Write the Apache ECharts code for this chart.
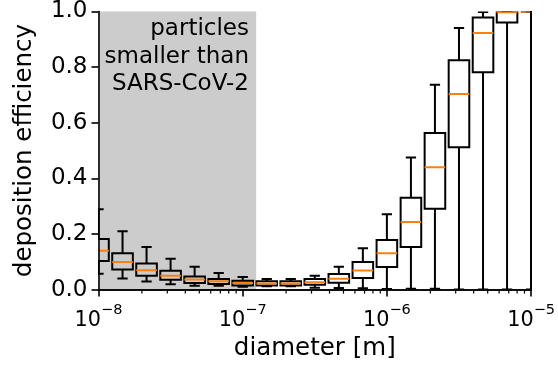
<!DOCTYPE html>
<html>
<head>
<meta charset="utf-8">
<script src="https://cdn.jsdelivr.net/npm/echarts@6/dist/echarts.min.js"></script>
<style>html,body{margin:0;padding:0;background:#fff}#c{width:558px;height:366px}</style>
</head>
<body>
<div id="c"></div>
<script>
// ---- data ----
const diameters = [1e-8, 1.468e-8, 2.154e-8, 3.162e-8, 4.642e-8, 6.813e-8, 1e-7, 1.468e-7, 2.154e-7, 3.162e-7, 4.642e-7, 6.813e-7, 1e-6, 1.468e-6, 2.154e-6, 3.162e-6, 4.642e-6, 6.813e-6, 1e-5];
const whiskerLow  = [0.057, 0.040, 0.029, 0.019, 0.014, 0.014, 0.010, 0.012, 0.012, 0.007, 0.006, 0.005, 0.002, 0.003, 0.003, 0.0, 0.0, 0.0, 0.0];
const q1          = [0.103, 0.072, 0.050, 0.035, 0.024, 0.020, 0.015, 0.015, 0.015, 0.017, 0.025, 0.042, 0.081, 0.153, 0.291, 0.512, 0.782, 0.960, 1.0];
const medians     = [0.140, 0.099, 0.070, 0.050, 0.036, 0.030, 0.024, 0.022, 0.022, 0.026, 0.039, 0.069, 0.131, 0.243, 0.440, 0.703, 0.923, 0.997, 1.0];
const q3          = [0.182, 0.131, 0.094, 0.068, 0.047, 0.038, 0.032, 0.030, 0.030, 0.038, 0.056, 0.099, 0.178, 0.330, 0.563, 0.825, 0.978, 1.0, 1.0];
const whiskerHigh = [0.289, 0.210, 0.153, 0.111, 0.082, 0.060, 0.045, 0.038, 0.038, 0.050, 0.082, 0.149, 0.271, 0.475, 0.737, 0.941, 0.998, 1.0, 1.0];
const shadeRange = [1e-8, 1.24e-7];
const shadeText = 'particles\nsmaller than\nSARS-CoV-2';
const xTicks = [1e-8, 1e-7, 1e-6, 1e-5];
const yTicks = [0, 0.2, 0.4, 0.6, 0.8, 1.0];
const xLabel = 'diameter [m]';
const yLabel = 'deposition efficiency';

// minor tick positions of the log axis (2..9 x 10^n)
const minorTicks = [];
for (let n = -8; n < -5; n++) for (let k = 2; k <= 9; k++) minorTicks.push(k * Math.pow(10, n));

const boxData = diameters.map((d, i) => [d, whiskerLow[i], q1[i], medians[i], q3[i], whiskerHigh[i]]);

const FONT = 'DejaVu Sans';
const chart = echarts.init(document.getElementById('c'), null, {renderer: 'canvas'});

function renderBox(params, api) {
  const x = api.value(0);
  const lo = api.coord([x, api.value(1)]);
  const b1 = api.coord([x, api.value(2)]);
  const md = api.coord([x, api.value(3)]);
  const b3 = api.coord([x, api.value(4)]);
  const hi = api.coord([x, api.value(5)]);
  const cx = lo[0];
  const hw = 10.3, cw = 5.15;
  const st = {stroke: '#000', lineWidth: 2, fill: null};
  return {
    type: 'group',
    children: [
      {type: 'line', shape: {x1: cx, y1: b1[1], x2: cx, y2: lo[1]}, style: st},
      {type: 'line', shape: {x1: cx, y1: b3[1], x2: cx, y2: hi[1]}, style: st},
      {type: 'line', shape: {x1: cx - cw, y1: lo[1], x2: cx + cw, y2: lo[1]}, style: st},
      {type: 'line', shape: {x1: cx - cw, y1: hi[1], x2: cx + cw, y2: hi[1]}, style: st},
      {type: 'rect', shape: {x: cx - hw, y: b3[1], width: 2 * hw, height: b1[1] - b3[1]}, style: st},
      {type: 'line', shape: {x1: cx - hw, y1: md[1], x2: cx + hw, y2: md[1]}, style: {stroke: '#ff7f0e', lineWidth: 2}}
    ]
  };
}

function renderMinor(params, api) {
  const p = api.coord([api.value(0), 0]);
  return {type: 'line', shape: {x1: p[0], y1: p[1], x2: p[0], y2: p[1] + 4}, style: {stroke: '#000', lineWidth: 1.2}};
}

const AX = {color: '#000', width: 1.6};
const option = {
  animation: false,
  textStyle: {fontFamily: FONT},
  grid: {left: 98.5, right: 26.5, top: 9.5, bottom: 76, show: false},
  xAxis: [{
    type: 'log', logBase: 10, min: xTicks[0], max: xTicks[xTicks.length - 1],
    z: 10,
    axisLine: {show: true, lineStyle: AX},
    axisTick: {show: true, inside: false, length: 7, lineStyle: AX},
    splitLine: {show: false},
    axisLabel: {
      show: true, margin: 13.5, showMinLabel: true, showMaxLabel: true,
      formatter: v => '{b|10}{s|−' + Math.round(-Math.log10(v)) + '}',
      rich: {
        b: {fontFamily: FONT, fontSize: 20.8, color: '#000', verticalAlign: 'bottom', lineHeight: 28},
        s: {fontFamily: FONT, fontSize: 14.5, color: '#000', verticalAlign: 'top', lineHeight: 10}
      }
    },
    name: xLabel, nameLocation: 'middle', nameGap: 46,
    nameTextStyle: {fontFamily: FONT, fontSize: 24.5, color: '#000'}
  }, {
    type: 'value', position: 'top', min: 0, max: 1, z: 10,
    axisLine: {show: true, lineStyle: AX},
    axisTick: {show: false}, axisLabel: {show: false}, splitLine: {show: false}
  }],
  yAxis: [{
    type: 'value', min: yTicks[0], max: yTicks[yTicks.length - 1], interval: 0.2, z: 10,
    axisLine: {show: true, lineStyle: AX},
    axisTick: {show: true, inside: false, length: 7, lineStyle: AX},
    splitLine: {show: false},
    axisLabel: {margin: 11, fontFamily: FONT, fontSize: 23, color: '#000', formatter: v => v.toFixed(1)},
    name: yLabel, nameLocation: 'middle', nameGap: 61, nameRotate: 90,
    nameTextStyle: {fontFamily: FONT, fontSize: 24.5, color: '#000'}
  }, {
    type: 'value', position: 'right', min: 0, max: 1, z: 10,
    axisLine: {show: true, lineStyle: AX},
    axisTick: {show: false}, axisLabel: {show: false}, splitLine: {show: false}
  }],
  series: [{
    type: 'custom', name: 'boxes', xAxisIndex: 0, yAxisIndex: 0, clip: true,
    renderItem: renderBox,
    encode: {x: 0, y: [1, 2, 3, 4, 5]},
    data: boxData,
    markArea: {
      silent: true,
      itemStyle: {color: '#cccccc'},
      label: {show: false},
      data: [[{xAxis: shadeRange[0], yAxis: 0}, {xAxis: shadeRange[1], yAxis: 1}]]
    },
    z: 3
  }, {
    type: 'custom', name: 'minor', xAxisIndex: 0, yAxisIndex: 0, clip: false,
    renderItem: renderMinor,
    encode: {x: 0},
    data: minorTicks.map(v => [v]),
    z: 11
  }],
  graphic: [{
    type: 'text', x: 249, y: 15.5, z: 20,
    style: {text: shadeText, fontFamily: FONT, fontSize: 23, lineHeight: 27.6, fill: '#000', align: 'right', verticalAlign: 'top'}
  }]
};
chart.setOption(option);
</script>
</body>
</html>
